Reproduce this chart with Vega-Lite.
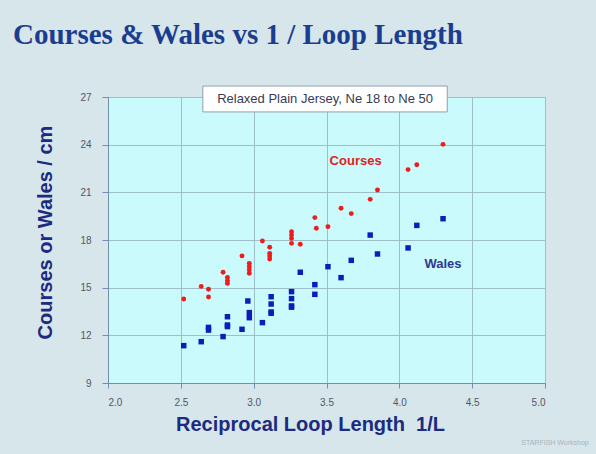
{
  "$schema": "https://vega.github.io/schema/vega-lite/v6.json",
  "width": 437,
  "height": 286,
  "autosize": {"type": "none"},
  "padding": {"left": 108, "top": 97, "right": 51, "bottom": 71},
  "background": "#d6e6ea",
  "title": {
    "text": "Courses & Wales vs 1 / Loop Length",
    "anchor": "start",
    "frame": "group",
    "font": "Liberation Serif",
    "fontSize": 29,
    "fontWeight": "bold",
    "color": "#1b3d8f",
    "dx": -95,
    "offset": 36
  },
  "config": {
    "view": {"fill": "#cbfafd", "stroke": "#7f9fbf", "strokeWidth": 1},
    "axis": {
      "labelFont": "Liberation Sans",
      "labelFontSize": 10,
      "labelColor": "#555566",
      "titleFont": "Liberation Sans",
      "titleFontSize": 20,
      "titleFontWeight": "bold",
      "titleColor": "#1c2a80",
      "domainColor": "#6f8fb0",
      "tickColor": "#6f8fb0",
      "gridColor": "#9dbfca",
      "gridOpacity": 1
    }
  },
  "datasets": {
    "points": [
      {"series": "Courses", "x": 2.52, "y": 14.29},
      {"series": "Courses", "x": 2.64, "y": 15.08},
      {"series": "Courses", "x": 2.69, "y": 14.9},
      {"series": "Courses", "x": 2.69, "y": 14.41},
      {"series": "Courses", "x": 2.79, "y": 15.97},
      {"series": "Courses", "x": 2.82, "y": 15.65},
      {"series": "Courses", "x": 2.82, "y": 15.44},
      {"series": "Courses", "x": 2.82, "y": 15.27},
      {"series": "Courses", "x": 2.92, "y": 17.0},
      {"series": "Courses", "x": 2.97, "y": 16.53},
      {"series": "Courses", "x": 2.97, "y": 16.32},
      {"series": "Courses", "x": 2.97, "y": 16.11},
      {"series": "Courses", "x": 2.97, "y": 15.9},
      {"series": "Courses", "x": 3.06, "y": 17.94},
      {"series": "Courses", "x": 3.11, "y": 17.54},
      {"series": "Courses", "x": 3.11, "y": 17.16},
      {"series": "Courses", "x": 3.11, "y": 16.99},
      {"series": "Courses", "x": 3.11, "y": 16.8},
      {"series": "Courses", "x": 3.26, "y": 18.52},
      {"series": "Courses", "x": 3.26, "y": 18.31},
      {"series": "Courses", "x": 3.26, "y": 18.1},
      {"series": "Courses", "x": 3.26, "y": 17.79},
      {"series": "Courses", "x": 3.32, "y": 17.73},
      {"series": "Courses", "x": 3.42, "y": 19.41},
      {"series": "Courses", "x": 3.43, "y": 18.74},
      {"series": "Courses", "x": 3.51, "y": 18.84},
      {"series": "Courses", "x": 3.6, "y": 20.0},
      {"series": "Courses", "x": 3.67, "y": 19.66},
      {"series": "Courses", "x": 3.8, "y": 20.56},
      {"series": "Courses", "x": 3.85, "y": 21.15},
      {"series": "Courses", "x": 4.06, "y": 22.43},
      {"series": "Courses", "x": 4.12, "y": 22.74},
      {"series": "Courses", "x": 4.3, "y": 24.02},
      {"series": "Wales", "x": 2.52, "y": 11.35},
      {"series": "Wales", "x": 2.64, "y": 11.6},
      {"series": "Wales", "x": 2.69, "y": 12.5},
      {"series": "Wales", "x": 2.69, "y": 12.33},
      {"series": "Wales", "x": 2.79, "y": 11.92},
      {"series": "Wales", "x": 2.82, "y": 13.17},
      {"series": "Wales", "x": 2.82, "y": 12.65},
      {"series": "Wales", "x": 2.82, "y": 12.55},
      {"series": "Wales", "x": 2.92, "y": 12.38},
      {"series": "Wales", "x": 2.96, "y": 14.16},
      {"series": "Wales", "x": 2.97, "y": 13.43},
      {"series": "Wales", "x": 2.97, "y": 13.11},
      {"series": "Wales", "x": 3.06, "y": 12.8},
      {"series": "Wales", "x": 3.12, "y": 14.43},
      {"series": "Wales", "x": 3.12, "y": 13.97},
      {"series": "Wales", "x": 3.12, "y": 13.47},
      {"series": "Wales", "x": 3.12, "y": 13.39},
      {"series": "Wales", "x": 3.26, "y": 14.75},
      {"series": "Wales", "x": 3.26, "y": 14.31},
      {"series": "Wales", "x": 3.26, "y": 13.85},
      {"series": "Wales", "x": 3.26, "y": 13.77},
      {"series": "Wales", "x": 3.32, "y": 15.97},
      {"series": "Wales", "x": 3.42, "y": 14.58},
      {"series": "Wales", "x": 3.42, "y": 15.19},
      {"series": "Wales", "x": 3.51, "y": 16.32},
      {"series": "Wales", "x": 3.6, "y": 15.63},
      {"series": "Wales", "x": 3.67, "y": 16.72},
      {"series": "Wales", "x": 3.8, "y": 18.31},
      {"series": "Wales", "x": 3.85, "y": 17.12},
      {"series": "Wales", "x": 4.06, "y": 17.5},
      {"series": "Wales", "x": 4.12, "y": 18.92},
      {"series": "Wales", "x": 4.3, "y": 19.34}
    ],
    "box": [
      {"x": 2.651, "x2": 4.329, "y": 27.69, "y2": 26.06, "label": "Relaxed Plain Jersey, Ne 18 to Ne 50", "lx": 3.49, "ly": 26.87}
    ],
    "labels": [
      {"label": "Courses", "x": 3.7, "y": 22.97, "kind": "Courses"},
      {"label": "Wales", "x": 4.3, "y": 16.49, "kind": "Wales"}
    ],
    "mark": [
      {"label": "STARFISH Workshop", "x": 5.3, "y": 5.22}
    ]
  },
  "layer": [
    {
      "data": {"name": "points"},
      "mark": {"type": "point", "filled": true, "opacity": 1},
      "encoding": {
        "x": {
          "field": "x", "type": "quantitative",
          "scale": {"domain": [2, 5], "nice": false, "zero": false},
          "axis": {
            "values": [2, 2.5, 3, 3.5, 4, 4.5, 5],
            "format": ".1f",
            "title": "Reciprocal Loop Length\u00a0 1/L",
            "tickSize": 5,
            "labelPadding": 9,
            "titlePadding": 7,
            "titleX": 202,
            "titleAnchor": "middle",
            "grid": true
          }
        },
        "y": {
          "field": "y", "type": "quantitative",
          "scale": {"domain": [9, 27], "nice": false, "zero": false},
          "axis": {
            "values": [9, 12, 15, 18, 21, 24, 27],
            "title": "Courses or Wales / cm",
            "tickSize": 6,
            "labelPadding": 11,
            "titlePadding": 24,
            "titleY": 135,
            "grid": true
          }
        },
        "shape": {
          "field": "series", "type": "nominal",
          "scale": {"domain": ["Courses", "Wales"], "range": ["circle", "square"]},
          "legend": null
        },
        "color": {
          "field": "series", "type": "nominal",
          "scale": {"domain": ["Courses", "Wales"], "range": ["#ee1c1c", "#0b1fb8"]},
          "legend": null
        },
        "size": {
          "field": "series", "type": "nominal",
          "scale": {"domain": ["Courses", "Wales"], "range": [24, 30]},
          "legend": null
        }
      }
    },
    {
      "data": {"name": "box"},
      "mark": {"type": "rect", "fill": "#ffffff", "stroke": "#8fa0b0", "strokeWidth": 1},
      "encoding": {
        "x": {"field": "x", "type": "quantitative"},
        "x2": {"field": "x2"},
        "y": {"field": "y", "type": "quantitative"},
        "y2": {"field": "y2"}
      }
    },
    {
      "data": {"name": "box"},
      "mark": {"type": "text", "font": "Liberation Sans", "fontSize": 13, "color": "#3a3a55", "align": "center", "baseline": "middle"},
      "encoding": {
        "x": {"field": "lx", "type": "quantitative"},
        "y": {"field": "ly", "type": "quantitative"},
        "text": {"field": "label"}
      }
    },
    {
      "data": {"name": "labels"},
      "mark": {"type": "text", "font": "Liberation Sans", "fontSize": 13, "fontWeight": "bold", "align": "center", "baseline": "middle"},
      "encoding": {
        "x": {"field": "x", "type": "quantitative"},
        "y": {"field": "y", "type": "quantitative"},
        "text": {"field": "label"},
        "color": {
          "field": "kind", "type": "nominal",
          "scale": {"domain": ["Courses", "Wales"], "range": ["#e02222", "#2e3890"]},
          "legend": null
        }
      }
    },
    {
      "data": {"name": "mark"},
      "mark": {"type": "text", "font": "Liberation Sans", "fontSize": 7, "color": "#a8b4bc", "align": "right", "baseline": "middle"},
      "encoding": {
        "x": {"field": "x", "type": "quantitative"},
        "y": {"field": "y", "type": "quantitative"},
        "text": {"field": "label"}
      }
    }
  ],
  "resolve": {"scale": {"color": "independent"}}
}
